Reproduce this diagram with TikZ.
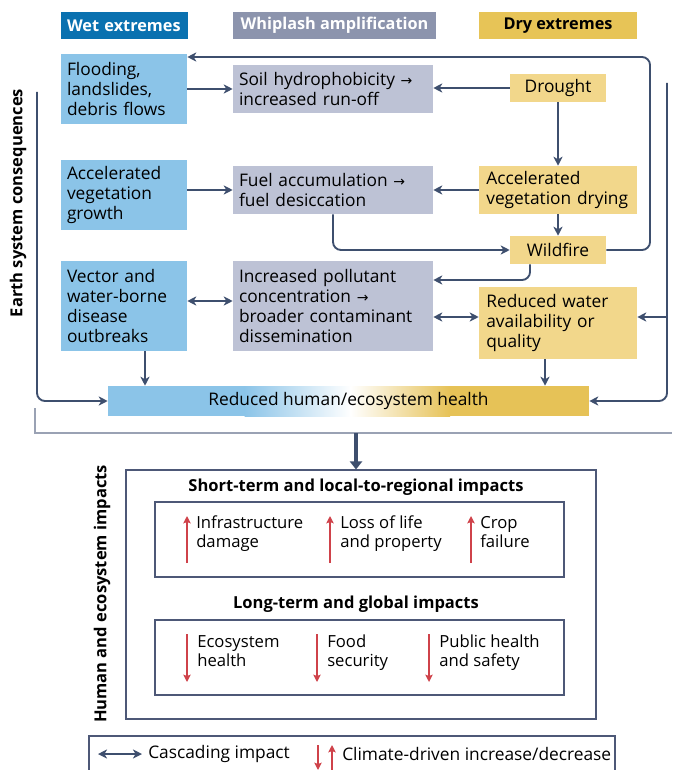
\documentclass[tikz,border=0pt]{standalone}
\usepackage{fontspec}
\setmainfont{Open Sans}
\newfontfamily\symf{DejaVu Sans}
\usetikzlibrary{arrows.meta,calc}
\definecolor{wetdark}{HTML}{0A71B0}
\definecolor{whipdark}{HTML}{8C94AD}
\definecolor{drydark}{HTML}{E7C457}
\definecolor{wetlight}{HTML}{8BC4E8}
\definecolor{whiplight}{HTML}{BDC2D5}
\definecolor{drylight}{HTML}{F2D78B}
\definecolor{healthgold}{HTML}{E6C257}
\definecolor{arr}{HTML}{3E4F6E}
\definecolor{redarr}{HTML}{CF424A}
\definecolor{bracketc}{HTML}{9AA2B4}
\definecolor{framec}{HTML}{4D5877}
\newcommand{\rarr}{{\symf\fontsize{10.5}{12}\selectfont →}}
\begin{document}
\begin{tikzpicture}[x=0.75pt,y=-0.75pt,
  base/.style={inner ysep=0pt, inner xsep=4.5pt, font=\fontsize{13}{15}\selectfont, align=left},
  hdr/.style={inner ysep=0pt, inner xsep=4.5pt, minimum height=20.25pt, font=\bfseries\fontsize{12.2}{14}\selectfont},
  wetbox/.style={base, fill=wetlight, minimum width=94.5pt, text width=85.5pt},
  whipbox/.style={base, fill=whiplight, minimum width=150pt, text width=141pt},
  drybox/.style={base, fill=drylight, minimum width=118.5pt, inner xsep=5.5pt, text width=107.5pt},
  drysmall/.style={base, fill=drylight, minimum width=72pt, minimum height=21pt, align=center},
  conn/.style={draw=arr, line width=1.4pt, -{Stealth[length=6.8pt,width=6.8pt,inset=2pt]}},
  dconn/.style={draw=arr, line width=1.4pt, {Stealth[length=6.8pt,width=6.8pt,inset=2pt]}-{Stealth[length=6.8pt,width=6.8pt,inset=2pt]}},
  bigarrow/.style={draw=arr, line width=3pt, -{Triangle[length=6pt,width=9pt]}},
  redup/.style={draw=redarr, line width=1.5pt, -{Stealth[length=5.5pt,width=5.5pt,inset=1pt]}},
  itemtext/.style={anchor=west, align=left, inner sep=0pt, font=\fontsize{12.5}{14.5}\selectfont},
  subtitle/.style={inner sep=0pt, font=\bfseries\fontsize{12.4}{14}\selectfont},
  sidelabel/.style={rotate=90, inner sep=0pt, font=\bfseries\fontsize{12.4}{14}\selectfont},
  framebox/.style={draw=framec, line width=0.8pt, inner sep=0pt}
]
\clip (0,0) rectangle (672,770);

% helper coordinates
\coordinate (xr) at (650,0);
\coordinate (y57) at (0,57);
\coordinate (y280) at (0,280);
\coordinate (y301) at (0,301);
\coordinate (y317) at (0,317);
\coordinate (x145) at (145,0);
\coordinate (x545) at (545,0);
\coordinate (rtop) at (667,83);
\coordinate (ltop) at (37,92);
\coordinate (br) at (356,433);

% headers
\node[hdr, fill=wetdark, text=white, minimum width=95.25pt, text width=86.25pt, align=left] (hwet) at (124.5,25.5) {Wet extremes};
\node[hdr, fill=whipdark, text=white, minimum width=152.25pt] (hwhip) at (334.5,25.5) {Whiplash amplification};
\node[hdr, fill=drydark, text=black, minimum width=118.5pt] (hdry) at (558,25.5) {Dry extremes};

% row 1
\node[wetbox, minimum height=52.5pt] (flood) at (124,89) {Flooding,\\landslides,\\debris flows};
\node[whipbox, minimum height=36pt] (soil) at (333,89) {Soil hydrophobicity \rarr\\increased run-off};
\node[drysmall] (drought) at (558,88) {Drought};

% row 2
\node[wetbox, minimum height=52.5pt] (growth) at (124,195) {Accelerated\\vegetation\\growth};
\node[whipbox, minimum height=36pt] (fuel) at (333,190) {Fuel accumulation \rarr\\fuel desiccation};
\node[drybox, minimum height=36pt] (drying) at (558,190) {Accelerated\\vegetation drying};
\node[drysmall] (wildfire) at (558,250) {Wildfire};

% row 3
\node[wetbox, minimum height=67.5pt] (vector) at (124,306) {Vector and\\water-borne\\disease\\outbreaks};
\node[whipbox, minimum height=67.5pt] (pollut) at (333,306) {Increased pollutant\\concentration \rarr\\broader contaminant\\dissemination};
\node[drybox, minimum height=54pt] (water) at (558,323) {Reduced water\\availability or\\quality};

% health bar
\fill[wetlight] (108,386) rectangle (245,416);
\shade[left color=wetlight, right color=white] (244.5,386) rectangle (351,416);
\shade[left color=white, right color=healthgold] (350.5,386) rectangle (450,416);
\fill[healthgold] (449.5,386) rectangle (589,416);
\node[base, align=center, minimum width=360.75pt, minimum height=22.5pt, inner xsep=0pt] (health) at (348.5,401) {Reduced human/ecosystem health};

% connectors
\draw[conn] (flood) -- (soil);
\draw[conn] (drought) -- (soil.east |- drought.west);
\draw[conn] (drought) -- (drying);
\draw[conn] (growth.east |- fuel.west) -- (fuel.west);
\draw[conn] (drying) -- (fuel);
\draw[conn] (drying) -- (wildfire);
\draw[conn, rounded corners=6pt] (fuel.south) |- (wildfire.west);
\draw[conn, rounded corners=6pt] (wildfire.east) -- (wildfire.east -| xr) -- (xr |- y57) -- (flood.east |- y57);
\draw[conn, rounded corners=6pt] ($(wildfire.south)+(-28,0)$) |- (pollut.east |- y280);
\draw[dconn] (vector.east |- y301) -- (pollut.west |- y301);
\draw[dconn] (pollut.east |- y317) -- (water.west |- y317);
\draw[conn, rounded corners=6pt] (rtop) -- (rtop |- health.east) -- (health.east);
\draw[conn] (rtop |- y317) -- (water.east |- y317);
\draw[conn, rounded corners=6pt] (ltop) |- (health.west);
\draw[conn] (vector.south -| x145) -- (health.north -| x145);
\draw[conn] (water.south -| x545) -- (health.north -| x545);

% side label top
\node[sidelabel] (earthlbl) at (18,203) {Earth system consequences};

% bracket
\draw[bracketc, line width=1.5pt] (35,408) -- (35,433) -- (672,433);

% impacts
\node[framebox, minimum width=352.5pt, minimum height=186.75pt] (impacts) at (361,594.5) {};
\draw[bigarrow] (br) -- (br |- impacts.north);
\node[sidelabel] (humanlbl) at (102,594) {Human and ecosystem impacts};

\node[subtitle] (st1) at (356,487) {Short-term and local-to-regional impacts};
\node[framebox, minimum width=306.75pt, minimum height=56.25pt] (short) at (359.5,539.5) {};
\node[subtitle] (st2) at (356,604) {Long-term and global impacts};
\node[framebox, minimum width=306.75pt, minimum height=56.25pt] (long) at (359.5,657.5) {};

\node[itemtext] (i1) at (196,534) {\strut Infrastructure\\damage\strut};
\node[itemtext] (i2) at (340,534) {\strut Loss of life\\and property\strut};
\node[itemtext] (i3) at (480,534) {\strut Crop\\failure\strut};
\draw[redup] (187,563) -- (187,516);
\draw[redup] (330,563) -- (330,516);
\draw[redup] (471,563) -- (471,516);

\node[itemtext] (j1) at (197,653) {\strut Ecosystem\\health\strut};
\node[itemtext] (j2) at (327,653) {\strut Food\\security\strut};
\node[itemtext] (j3) at (439,653) {\strut Public health\\and safety\strut};
\draw[redup] (187,634) -- (187,682);
\draw[redup] (317,634) -- (317,682);
\draw[redup] (429,634) -- (429,682);

% legend
\draw[framec, line width=0.8pt] (89,736) rectangle (615,800);
\coordinate (la) at (98,754);
\coordinate (lb) at (142,754);
\draw[dconn] (la) -- (lb);
\node[itemtext, font=\fontsize{13}{15}\selectfont] (leg1) at (148,754) {Cascading impact};
\draw[redup] (318,745) -- (318,770);
\draw[redup] (332,772) -- (332,745);
\node[itemtext, font=\fontsize{13}{15}\selectfont] (leg2) at (342,754) {Climate-driven increase/decrease};
\end{tikzpicture}
\end{document}
